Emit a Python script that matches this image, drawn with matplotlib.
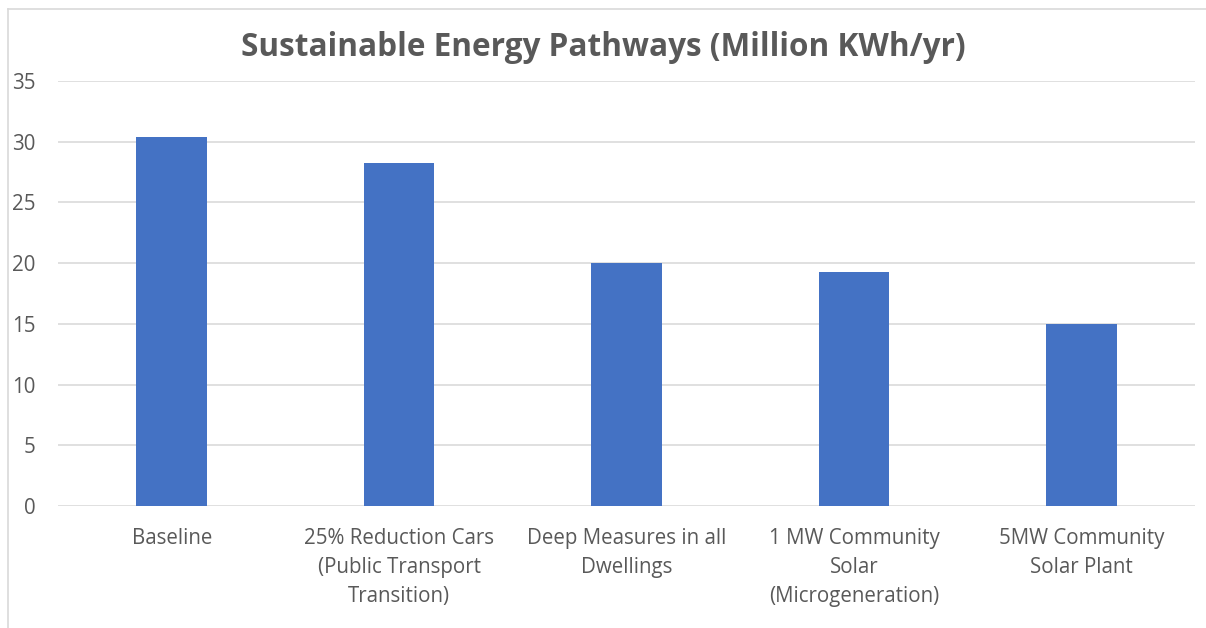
import matplotlib.pyplot as plt
from matplotlib.lines import Line2D

# Data
categories = [
    "Baseline",
    "25% Reduction Cars\n(Public Transport\nTransition)",
    "Deep Measures in all\nDwellings",
    "1 MW Community\nSolar\n(Microgeneration)",
    "5MW Community\nSolar Plant",
]
values = [30.4, 28.25, 20.0, 19.25, 15.0]
yticks = [0, 5, 10, 15, 20, 25, 30, 35]

plt.rcParams["font.family"] = ["Open Sans", "DejaVu Sans"]

fig = plt.figure(figsize=(12.06, 6.28), dpi=100)
ax = fig.add_axes([58 / 1206, 1 - 506 / 628, (1195 - 58) / 1206, (506 - 81) / 628])

# Bars
x = range(len(categories))
ax.bar(x, values, width=0.31, color="#4472C4", zorder=3)

ax.set_xlim(-0.5, len(categories) - 0.5)
ax.set_ylim(0, 35)
ax.set_yticks(yticks)
ax.set_xticks(list(x))
ax.set_xticklabels(categories, fontsize=14.8, color="#595959", linespacing=1.48)
ax.tick_params(axis="y", labelsize=14.8, labelcolor="#595959", length=0, pad=16)
ax.tick_params(axis="x", length=0, pad=16)

# Grid
ax.grid(axis="y", color="#DDDDDD", linewidth=1.3, zorder=0)
for s in ax.spines.values():
    s.set_visible(False)

# Title
fig.text(0.5, 1 - 48 / 628, "Sustainable Energy Pathways (Million KWh/yr)",
         ha="center", va="center", fontsize=22.7, fontweight="bold", color="#595959")

# Chart border
fig.add_artist(Line2D([8 / 1206, 8 / 1206], [0, 1 - 9 / 628],
                      transform=fig.transFigure, color="#D9D9D9", linewidth=1.2))
fig.add_artist(Line2D([8 / 1206, 1], [1 - 9 / 628, 1 - 9 / 628],
                      transform=fig.transFigure, color="#D9D9D9", linewidth=1.2))

fig.savefig("out.png", dpi=100)
